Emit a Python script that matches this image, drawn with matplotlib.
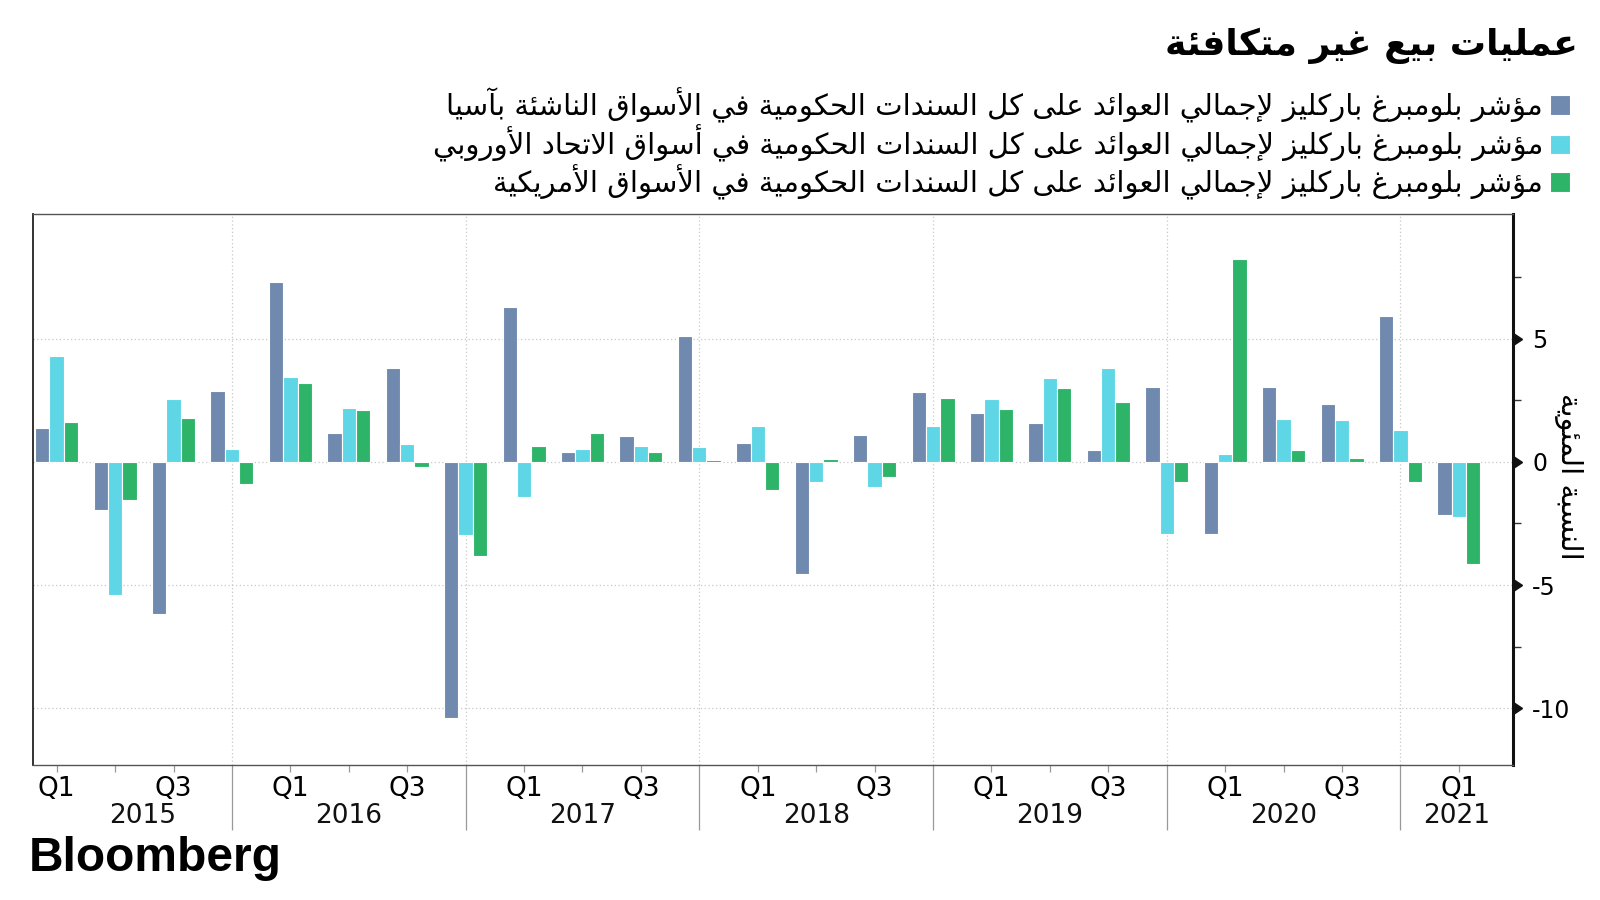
import matplotlib
matplotlib.use("Agg")
import matplotlib.pyplot as plt
from matplotlib import font_manager
from matplotlib.transforms import blended_transform_factory
import numpy as np

# ---------------- data ----------------
years = [2015, 2016, 2017, 2018, 2019, 2020, 2021]
quarters = ["Q1", "Q2", "Q3", "Q4", "Q1", "Q2", "Q3", "Q4", "Q1", "Q2", "Q3", "Q4",
            "Q1", "Q2", "Q3", "Q4", "Q1", "Q2", "Q3", "Q4", "Q1", "Q2", "Q3", "Q4", "Q1"]
asia = [1.39, -1.97, -6.16, 2.89, 7.30, 1.17, 3.82, -10.40, 6.29, 0.40, 1.03, 5.12,
        0.77, -4.54, 1.07, 2.83, 1.98, 1.58, 0.46, 3.05, -2.92, 3.05, 2.34, 5.92, -2.17]
europe = [4.31, -5.40, 2.54, 0.52, 3.44, 2.20, 0.72, -2.98, -1.43, 0.52, 0.62, 0.58,
          1.47, -0.84, -1.04, 1.46, 2.54, 3.40, 3.80, -2.92, 0.32, 1.73, 1.68, 1.27, -2.23]
usa = [1.62, -1.56, 1.78, -0.90, 3.19, 2.08, -0.23, -3.83, 0.66, 1.18, 0.40, 0.06,
       -1.16, 0.10, -0.61, 2.59, 2.14, 2.99, 2.43, -0.81, 8.21, 0.46, 0.17, -0.81, -4.13]

title = "عمليات بيع غير متكافئة"
labels = [
    "مؤشر بلومبرغ باركليز لإجمالي العوائد على كل السندات الحكومية في الأسواق الناشئة بآسيا",
    "مؤشر بلومبرغ باركليز لإجمالي العوائد على كل السندات الحكومية في أسواق الاتحاد الأوروبي",
    "مؤشر بلومبرغ باركليز لإجمالي العوائد على كل السندات الحكومية في الأسواق الأمريكية",
]
ylabel = "النسبة المئوية"
yticks = [-10, -5, 0, 5]

colors = ["#7089AE", "#5ED6E5", "#2EB469"]

# ---------------- minimal Arabic shaping ----------------
_TABLE = [
    (0x0621, 0xFE80, 1), (0x0622, 0xFE81, 2), (0x0623, 0xFE83, 2), (0x0624, 0xFE85, 2),
    (0x0625, 0xFE87, 2), (0x0626, 0xFE89, 4), (0x0627, 0xFE8D, 2), (0x0628, 0xFE8F, 4),
    (0x0629, 0xFE93, 2), (0x062A, 0xFE95, 4), (0x062B, 0xFE99, 4), (0x062C, 0xFE9D, 4),
    (0x062D, 0xFEA1, 4), (0x062E, 0xFEA5, 4), (0x062F, 0xFEA9, 2), (0x0630, 0xFEAB, 2),
    (0x0631, 0xFEAD, 2), (0x0632, 0xFEAF, 2), (0x0633, 0xFEB1, 4), (0x0634, 0xFEB5, 4),
    (0x0635, 0xFEB9, 4), (0x0636, 0xFEBD, 4), (0x0637, 0xFEC1, 4), (0x0638, 0xFEC5, 4),
    (0x0639, 0xFEC9, 4), (0x063A, 0xFECD, 4), (0x0641, 0xFED1, 4), (0x0642, 0xFED5, 4),
    (0x0643, 0xFED9, 4), (0x0644, 0xFEDD, 4), (0x0645, 0xFEE1, 4), (0x0646, 0xFEE5, 4),
    (0x0647, 0xFEE9, 4), (0x0648, 0xFEED, 2), (0x0649, 0xFEEF, 2), (0x064A, 0xFEF1, 4),
]
FORMS = {}
for cp, base, n in _TABLE:
    if n == 1:
        FORMS[chr(cp)] = (chr(base),)
    elif n == 2:
        FORMS[chr(cp)] = (chr(base), chr(base + 1))
    else:
        FORMS[chr(cp)] = tuple(chr(base + k) for k in range(4))
LAMALEF = {"\u0622": 0xFEF5, "\u0623": 0xFEF7, "\u0625": 0xFEF9, "\u0627": 0xFEFB}


def _dual(c):
    return c in FORMS and len(FORMS[c]) == 4


def _joins(c):
    return c in FORMS and len(FORMS[c]) >= 2


def shape(text):
    ch = list(text)
    n = len(ch)
    out = []
    i = 0
    while i < n:
        c = ch[i]
        if c not in FORMS:
            out.append(c)
            i += 1
            continue
        prev = ch[i - 1] if i > 0 else None
        cprev = prev is not None and _dual(prev) and _joins(c)
        if c == "\u0644" and i + 1 < n and ch[i + 1] in LAMALEF:
            out.append(chr(LAMALEF[ch[i + 1]] + (1 if cprev else 0)))
            i += 2
            continue
        nxt = ch[i + 1] if i + 1 < n else None
        cnext = _dual(c) and nxt is not None and _joins(nxt)
        f = FORMS[c]
        if cprev and cnext:
            g = f[3]
        elif cprev:
            g = f[1]
        elif cnext:
            g = f[2]
        else:
            g = f[0]
        out.append(g)
        i += 1
    return "".join(reversed(out))


# ---------------- fonts ----------------
avail = {f.name for f in font_manager.fontManager.ttflist}


def pick(*names):
    for nm in names:
        if nm in avail:
            return nm
    return "DejaVu Sans"


num_font = pick("DejaVu Sans Condensed", "Liberation Sans Narrow", "DejaVu Sans")
logo_font = pick("Liberation Sans", "Arimo", "DejaVu Sans")
ar_font = "DejaVu Sans"
plt.rcParams["font.family"] = [ar_font]

# ---------------- figure ----------------
fig = plt.figure(figsize=(16, 9), dpi=100)
ax = fig.add_axes([0.0208, 0.15, 0.9246, 0.6122])

n = len(asia)
x = np.arange(n)
w = 0.245
series = [asia, europe, usa]
for k, (vals, col, lab) in enumerate(zip(series, colors, labels)):
    ax.bar(x + (k - 1) * w, vals, width=w, color=col, edgecolor="white",
           linewidth=0.8, label=shape(lab), zorder=3)

ax.set_xlim(-0.40, n - 1 + 0.92)
ax.set_ylim(-12.3, 10.05)

# y axis on right
ax.yaxis.tick_right()
ax.set_yticks(yticks)
ax.set_yticklabels([str(v) for v in yticks], fontfamily=num_font, fontsize=17)
ax.set_yticks([-7.5, -2.5, 2.5, 7.5], minor=True)
ax.tick_params(axis="y", which="major", length=0, pad=14)
ax.tick_params(axis="y", which="minor", length=6, width=1.0, color="#333333")
trans_y = blended_transform_factory(ax.transAxes, ax.transData)
ax.plot([1.0] * len(yticks), yticks, linestyle="none", marker=9, markersize=9,
        color="#111111", transform=trans_y, clip_on=False, zorder=5)
ax.grid(axis="y", which="major", linestyle=(0, (1, 2)), color="#c8c8c8", linewidth=0.9, zorder=0)

# y label (right side, rotated)
fig.text(0.9805, 0.471, shape(ylabel), rotation=270, fontsize=21, ha="center",
         va="center", rotation_mode="anchor")

# x axis: quarter ticks and year separators
bounds = [i for i, q in enumerate(quarters) if q == "Q4"]
minor_pos = [i for i, q in enumerate(quarters) if q != "Q4"]
minor_lab = [q if q in ("Q1", "Q3") else "" for q in quarters if q != "Q4"]
ax.set_xticks(bounds)
ax.set_xticklabels([""] * len(bounds))
ax.set_xticks(minor_pos, minor=True)
ax.set_xticklabels(minor_lab, minor=True, fontfamily=num_font, fontsize=19)
ax.tick_params(axis="x", which="major", length=47, width=0.9, color="#999999")
ax.tick_params(axis="x", which="minor", length=5, width=0.9, color="#999999", pad=3)
for b in bounds:
    ax.axvline(b, linestyle=(0, (1, 2)), color="#c8c8c8", linewidth=0.9, zorder=0)

# year labels
x0, x1 = ax.get_xlim()
edges = [x0 + 0.35] + bounds + [x1]
trans_x = blended_transform_factory(ax.transData, ax.transAxes)
for yr, a, b in zip(years, edges[:-1], edges[1:]):
    ax.text((a + b) / 2, -0.092, str(yr), transform=trans_x, ha="center", va="center",
            fontfamily=num_font, fontsize=19, color="#111111")

# spines
ax.spines["right"].set_linewidth(2.2)
ax.spines["right"].set_color("#111111")
ax.spines["left"].set_linewidth(1.3)
ax.spines["left"].set_color("#222222")
ax.spines["bottom"].set_linewidth(1.0)
ax.spines["bottom"].set_color("#555555")
ax.spines["top"].set_linewidth(1.0)
ax.spines["top"].set_color("#555555")
ax.spines["top"].set_linestyle((0, (2, 1)))

# title
fig.text(0.986, 0.949, shape(title), ha="right", va="center", fontsize=26,
         fontweight="bold", color="#000000")

# legend (marker on the right, RTL)
handles, labs = ax.get_legend_handles_labels()
leg = fig.legend(handles, labs, loc="upper right", bbox_to_anchor=(0.981, 0.903),
                 markerfirst=False, frameon=False, fontsize=21, handlelength=0.66,
                 handleheight=0.66, handletextpad=0.25, labelspacing=0.07,
                 borderaxespad=0, borderpad=0)

# logo
fig.text(0.018, 0.046, "Bloomberg", ha="left", va="center", fontsize=34.5,
         fontweight="bold", fontfamily=logo_font, color="#000000")

fig.savefig("out.png", dpi=100, facecolor="white")
